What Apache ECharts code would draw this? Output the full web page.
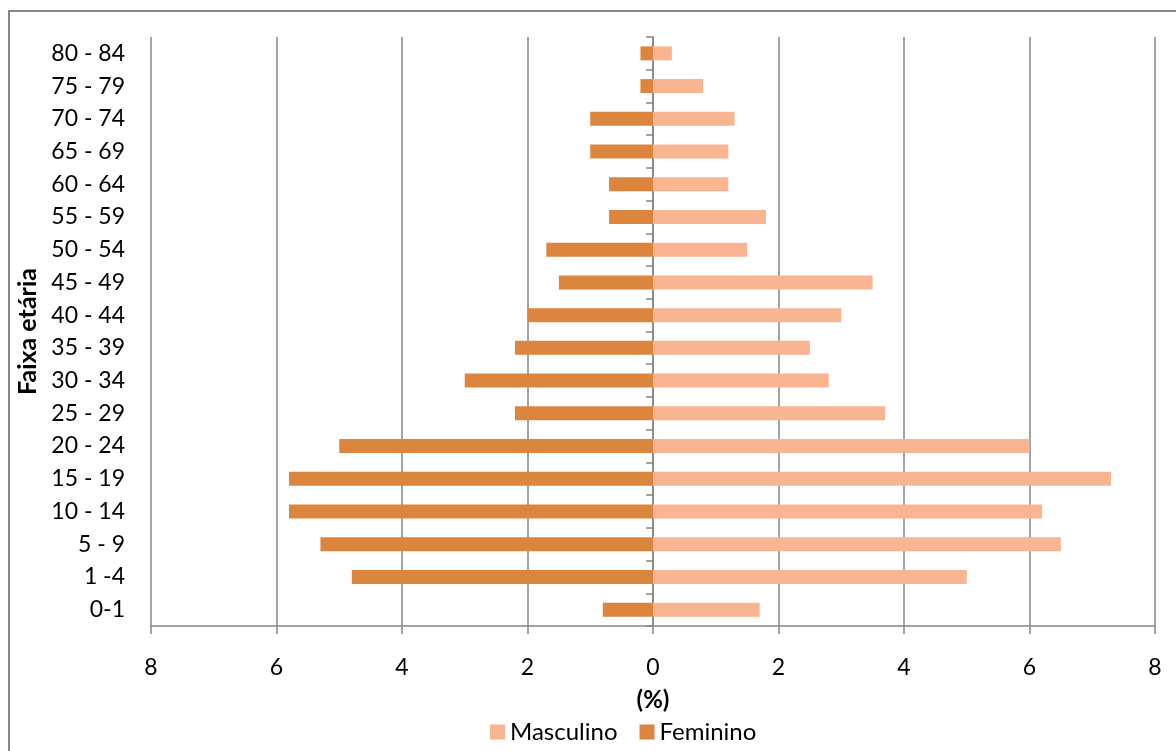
<!DOCTYPE html>
<html>
<head>
<meta charset="utf-8">
<script src="https://cdn.jsdelivr.net/npm/echarts@6/dist/echarts.min.js"></script>
<style>
  html, body { margin: 0; padding: 0; background: #fff; }
  #chart { width: 1176px; height: 751px; }
</style>
</head>
<body>
<div id="chart"></div>
<script>
// Age groups, bottom to top
const faixas = ['0-1', '1 -4', '5 - 9', '10 - 14', '15 - 19', '20 - 24', '25 - 29', '30 - 34',
  '35 - 39', '40 - 44', '45 - 49', '50 - 54', '55 - 59', '60 - 64', '65 - 69', '70 - 74',
  '75 - 79', '80 - 84'];
// Share of population (%) per age group
const masculino = [1.7, 5.0, 6.5, 6.2, 7.3, 6.0, 3.7, 2.8, 2.5, 3.0, 3.5, 1.5, 1.8, 1.2, 1.2, 1.3, 0.8, 0.3];
const feminino = [0.8, 4.8, 5.3, 5.8, 5.8, 5.0, 2.2, 3.0, 2.2, 2.0, 1.5, 1.7, 0.7, 0.7, 1.0, 1.0, 0.2, 0.2];
const xTicks = { min: -8, max: 8, interval: 2 };

const font = 'Lato, "Open Sans", sans-serif';
const gray = '#868686';

const chart = echarts.init(document.getElementById('chart'), null, { renderer: 'canvas' });
chart.setOption({
  animation: false,
  textStyle: { fontFamily: font, color: '#000' },
  graphic: [{
    type: 'rect',
    shape: { x: 9, y: 11, width: 1200, height: 800 },
    style: { fill: 'none', stroke: gray, lineWidth: 2 },
    silent: true
  }],
  legend: {
    data: ['Masculino', 'Feminino'],
    top: 715,
    left: 485,
    itemWidth: 15,
    itemHeight: 15,
    itemGap: 22,
    icon: 'rect',
    textStyle: { fontFamily: font, fontSize: 24, color: '#000' }
  },
  grid: { left: 151, right: 21, top: 37, bottom: 125, containLabel: false },
  xAxis: {
    type: 'value',
    min: xTicks.min,
    max: xTicks.max,
    interval: xTicks.interval,
    name: '(%)',
    nameLocation: 'middle',
    nameGap: 62,
    nameTextStyle: { fontFamily: font, fontSize: 24, fontWeight: 'bold', color: '#000' },
    axisLine: { show: true, onZero: false, lineStyle: { color: gray, width: 1.5 } },
    axisTick: { show: true, length: 8, lineStyle: { color: gray, width: 1.5 } },
    axisLabel: {
      margin: 30,
      fontSize: 23,
      color: '#000',
      fontFamily: font,
      formatter: v => String(Math.abs(v))
    },
    splitLine: { show: true, lineStyle: { color: gray, width: 1.5 } }
  },
  yAxis: [{
    type: 'category',
    data: faixas,
    position: 'left',
    name: 'Faixa etária',
    nameLocation: 'middle',
    nameRotate: 90,
    nameGap: 110,
    nameTextStyle: { fontFamily: font, fontSize: 25, fontWeight: 'bold', color: '#000' },
    axisLine: { show: false, onZero: false },
    axisTick: { show: false },
    axisLabel: { margin: 26, fontSize: 23, color: '#000', fontFamily: font },
    splitLine: { show: false }
  }, {
    // center spine at x = 0 with ticks between age groups
    type: 'category',
    data: faixas,
    position: 'left',
    axisLine: { show: true, onZero: true, onZeroAxisIndex: 0, lineStyle: { color: gray, width: 1.5 } },
    axisTick: { show: true, length: 7, inside: false, lineStyle: { color: gray, width: 1.5 } },
    axisLabel: { show: false },
    splitLine: { show: false }
  }],
  series: [{
    name: 'Masculino',
    type: 'bar',
    stack: 'piramide',
    barWidth: 14,
    yAxisIndex: 0,
    itemStyle: { color: '#F9B592' },
    data: masculino
  }, {
    name: 'Feminino',
    type: 'bar',
    stack: 'piramide',
    barWidth: 14,
    yAxisIndex: 0,
    itemStyle: { color: '#DC853E' },
    data: feminino.map(v => -v)
  }]
});
</script>
</body>
</html>
